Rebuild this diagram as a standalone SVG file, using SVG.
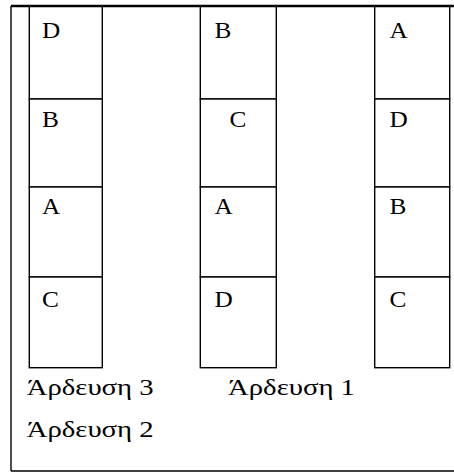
<svg xmlns="http://www.w3.org/2000/svg" width="454" height="472" viewBox="0 0 454 472">
<style>
.f{fill:none;stroke:#000;stroke-width:1.4}
.c{fill:#fff;stroke:#000;stroke-width:1.4}
.t{font-family:'Liberation Serif','Times New Roman',serif;font-size:23px;fill:#000}
</style>
<rect width="454" height="472" fill="#fff"/>
<g id="frame">
<line class="f" x1="11" y1="6" x2="11" y2="471"/>
<line class="f" x1="11" y1="471" x2="454" y2="471"/>
</g>
<g id="col1">
<rect class="c" x="29.3" y="6" width="73" height="93"/>
<rect class="c" x="29.3" y="99" width="73" height="88"/>
<rect class="c" x="29.3" y="187" width="73" height="90"/>
<rect class="c" x="29.3" y="277" width="73" height="90.7"/>
<text class="t" font-family="Liberation Serif" transform="translate(42,37.5) scale(1.1,1)">D</text>
<text class="t" font-family="Liberation Serif" transform="translate(42,127) scale(1.1,1)">B</text>
<text class="t" font-family="Liberation Serif" transform="translate(42,214) scale(1.1,1)">A</text>
<text class="t" font-family="Liberation Serif" transform="translate(42,307) scale(1.1,1)">C</text>
</g>
<g id="col2">
<rect class="c" x="200.3" y="6" width="76" height="93"/>
<rect class="c" x="200.3" y="99" width="76" height="88"/>
<rect class="c" x="200.3" y="187" width="76" height="90"/>
<rect class="c" x="200.3" y="277" width="76" height="90.7"/>
<text class="t" font-family="Liberation Serif" transform="translate(214.5,37.5) scale(1.1,1)">B</text>
<text class="t" font-family="Liberation Serif" transform="translate(229.5,127) scale(1.1,1)">C</text>
<text class="t" font-family="Liberation Serif" transform="translate(214.5,214) scale(1.1,1)">A</text>
<text class="t" font-family="Liberation Serif" transform="translate(214.5,307) scale(1.1,1)">D</text>
</g>
<g id="col3">
<rect class="c" x="374.7" y="6" width="75" height="93"/>
<rect class="c" x="374.7" y="99" width="75" height="88"/>
<rect class="c" x="374.7" y="187" width="75" height="90"/>
<rect class="c" x="374.7" y="277" width="75" height="90.7"/>
<text class="t" font-family="Liberation Serif" transform="translate(389.5,37.5) scale(1.1,1)">A</text>
<text class="t" font-family="Liberation Serif" transform="translate(389.5,127) scale(1.1,1)">D</text>
<text class="t" font-family="Liberation Serif" transform="translate(389.5,214) scale(1.1,1)">B</text>
<text class="t" font-family="Liberation Serif" transform="translate(389.5,307) scale(1.1,1)">C</text>
</g>
<line id="top-border" x1="11" y1="6" x2="454" y2="6" stroke="#000" stroke-width="2.4"/>
<g id="labels">
<text class="t" font-family="Liberation Serif" x="26.7" y="395.3" textLength="127" lengthAdjust="spacingAndGlyphs">Άρδευση 3</text>
<text class="t" font-family="Liberation Serif" x="228" y="395.3" textLength="127" lengthAdjust="spacingAndGlyphs">Άρδευση 1</text>
<text class="t" font-family="Liberation Serif" x="26.7" y="437" textLength="127" lengthAdjust="spacingAndGlyphs">Άρδευση 2</text>
</g>
<g id="connectors"></g>
</svg>
